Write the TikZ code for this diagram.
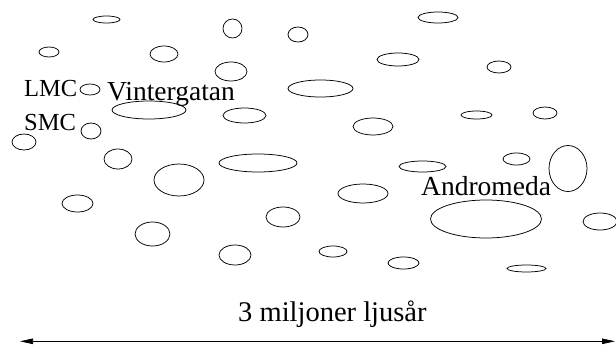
\documentclass[tikz,border=0pt]{standalone}
\usepackage{fontspec}
\setmainfont{Liberation Serif}
\usetikzlibrary{arrows.meta}
\begin{document}
\begin{tikzpicture}[x=1pt,y=-1pt,
  galaxy/.style={draw=black,line width=0.75pt},
  label/.style={inner sep=0pt,anchor=base west,font=\fontsize{27.5}{30}\selectfont},
  small/.style={inner sep=0pt,anchor=base west,font=\fontsize{24.5}{27}\selectfont},
  scale bar/.style={line width=0.75pt,{Triangle[length=13pt,width=5.5pt]}-{Triangle[length=13pt,width=5.5pt]}}]
\useasboundingbox (0,0) rectangle (616,345);
% galaxies, each given by centre and the two half axes
\foreach \cx/\cy/\rx/\ry in {
  106.5/19.5/13.5/3.5, 232.5/28.5/9.5/9.5, 298/34.5/10/7.5, 49/52/10/5,
  164/54/14/8, 231/71.5/16/9.5, 90/89.5/10/5.5, 149/110/37/9,
  244.5/115.5/21.5/7.5, 91/131/10/8, 24/142/12/8, 118/159/14/10,
  258/163/39/9, 179/180/25/16, 320.5/88.5/32.5/8.5,
  438/17.5/20/5.5, 398/59.5/21/6.5, 499/67/12/6, 476.5/115/15.5/4,
  545/113/12/6, 373/126.5/20/8.5, 516.5/159/13.5/6, 568/168.5/19/23,
  422.5/166.5/23.5/5.5, 77.5/203.5/15.5/8.5, 152.5/234/17.5/12,
  283/217/17/10, 235/255/16/10, 363/193.5/25/9.5, 486/219/55.5/19,
  600/221.5/17/8.5, 333/251.5/14/5.5, 403.5/263/15.5/6, 526.5/268.5/19.5/3.5}
  \draw[galaxy] (\cx,\cy) ellipse [x radius=\rx, y radius=\ry];
% names
\node[small] (lmc) at (24,96) {LMC};
\node[small] (smc) at (24,130) {SMC};
\node[label] (milkyway) at (107,100) {Vintergatan};
\node[label] (andromeda) at (421,195) {Andromeda};
\node[label,font=\fontsize{28.5}{31}\selectfont] (dist) at (238,321) {3 miljoner ljusår};
% scale bar
\coordinate (west) at (20,341.3);
\coordinate (east) at (615,341.3);
\draw[scale bar] (west) -- (east);
\end{tikzpicture}
\end{document}
